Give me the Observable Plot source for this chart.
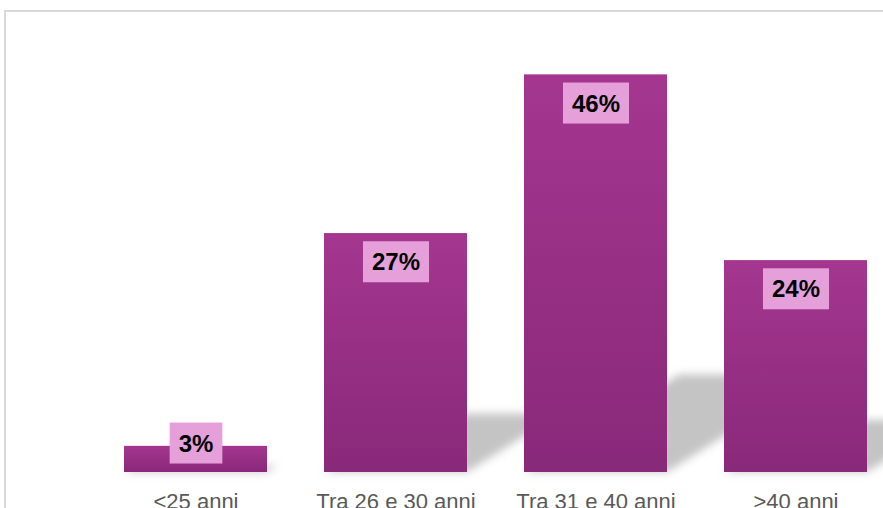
<!DOCTYPE html>
<html><head><meta charset="utf-8">
<script src="https://cdn.jsdelivr.net/npm/d3@7"></script>
<script src="https://cdn.jsdelivr.net/npm/@observablehq/plot@0.6"></script>
<style>
html,body{margin:0;padding:0;width:883px;height:508px;overflow:hidden;background:#fff;}
#frame{position:absolute;left:4px;top:10px;width:1000px;height:700px;border:2px solid #d9d9d9;box-sizing:border-box;}
#chart{position:absolute;left:0;top:0;}
</style></head><body>
<div id="frame"></div><div id="chart"></div>
<script>
const categories = ["<25 anni", "Tra 26 e 30 anni", "Tra 31 e 40 anni", ">40 anni"];
const values = [3.0, 27.4, 45.6, 24.3];
const labels = ["3%", "27%", "46%", "24%"];

const data = categories.map((c, i) => ({cat: c, value: values[i], label: labels[i]}));
const big = data.filter(d => d.value >= 10);
const small = data.filter(d => d.value < 10);

const plot = Plot.plot({
  width: 883, height: 508,
  marginLeft: 107, marginRight: 0, marginTop: 36, marginBottom: 36,
  style: {background: "transparent", fontFamily: "'Liberation Sans', Arial, sans-serif", fontSize: "22px", color: "#595959", overflow: "visible"},
  x: {domain: categories, paddingInner: 0.285, paddingOuter: 0.08, label: null, tickSize: 0, tickPadding: 21},
  y: {domain: [0, 50], axis: null},
  marks: [
    Plot.barY(data, {x: "cat", y: "value", fill: "#c4c4c4"}),
    Plot.barY(data, {x: "cat", y: "value", fill: "url(#barGrad)"}),
    Plot.text(big, {x: "cat", y: "value", text: "label", dy: 29, fontSize: 24, fontWeight: "bold", fill: "#000"}),
    Plot.text(small, {x: "cat", y: "value", text: "label", dy: -2.5, fontSize: 24, fontWeight: "bold", fill: "#000"})
  ]
});
document.getElementById("chart").appendChild(plot);

const ns = "http://www.w3.org/2000/svg";
const svg = d3.select(plot);
const defs = svg.insert("defs", ":first-child");
const grad = defs.append("linearGradient").attr("id", "barGrad").attr("x1", 0).attr("y1", 0).attr("x2", 0).attr("y2", 1);
grad.append("stop").attr("offset", "0%").attr("stop-color", "#a4368f");
grad.append("stop").attr("offset", "100%").attr("stop-color", "#89297a");
const filt = defs.append("filter").attr("id", "shadowBlur").attr("x", "-10%").attr("y", "-60%").attr("width", "120%").attr("height", "220%");
filt.append("feGaussianBlur").attr("stdDeviation", 4);

// perspective shadow behind bars (first bar mark)
const barGroups = plot.querySelectorAll('g[aria-label="bar"]');
const base = plot.scale("y").apply(0);
const sk = 0.39, s = 0.245;
if (barGroups.length) {
  const sg = barGroups[0];
  const outer = document.createElementNS(ns, "g");
  outer.setAttribute("filter", "url(#shadowBlur)");
  const inner = document.createElementNS(ns, "g");
  inner.setAttribute("transform", `matrix(1 0 ${-sk} ${s} ${sk * base} ${(1 - s) * base})`);
  sg.parentNode.insertBefore(outer, sg);
  outer.appendChild(inner);
  inner.appendChild(sg);
}

// label boxes
const sr = plot.getBoundingClientRect();
plot.querySelectorAll('g[aria-label="text"]').forEach(g => {
  const boxes = document.createElementNS(ns, "g");
  g.querySelectorAll("text").forEach(t => {
    const r = t.getBoundingClientRect();
    const cy = r.top - sr.top + r.height / 2;
    const rect = document.createElementNS(ns, "rect");
    rect.setAttribute("x", r.left - sr.left - 9);
    rect.setAttribute("width", r.width + 18);
    rect.setAttribute("y", cy - 20.5);
    rect.setAttribute("height", 41);
    rect.setAttribute("fill", "#e5a0da");
    boxes.appendChild(rect);
  });
  g.parentNode.insertBefore(boxes, g);
});
</script>
</body></html>
